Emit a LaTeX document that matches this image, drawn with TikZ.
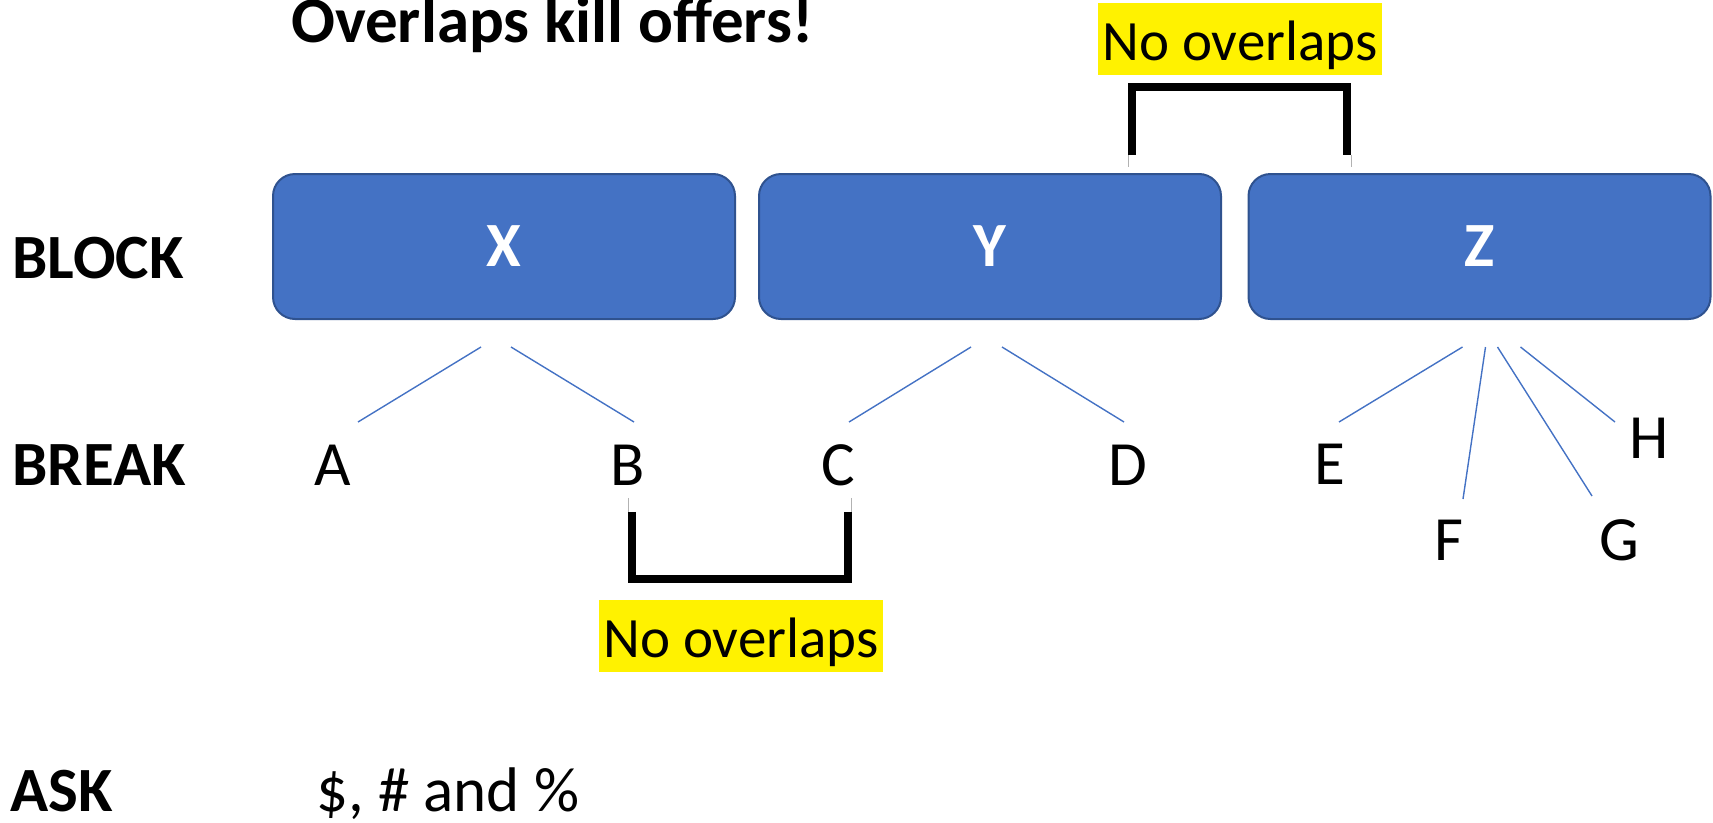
\documentclass[tikz,border=0pt]{standalone}
\usepackage{fontspec}
\setmainfont{Carlito}
\definecolor{boxblue}{HTML}{4472C4}
\definecolor{boxedge}{HTML}{2F528F}
\begin{document}
\begin{tikzpicture}[
        x=1pt, y=-1pt,
        every node/.style={inner sep=0pt, font=\fontsize{63}{75}\selectfont},
        block/.style={rectangle, rounded corners=22pt, draw=boxedge, line width=2pt, fill=boxblue,
                text=white, font=\fontsize{63}{75}\selectfont\bfseries,
                minimum width=462pt, minimum height=145pt},
        row/.style={anchor=base west, font=\fontsize{63}{75}\selectfont\bfseries},
        leaf/.style={anchor=base},
        link/.style={boxblue, line width=1.4pt},
        bracket/.style={line width=8pt},
        stub/.style={gray!60, line width=0.8pt},
        note/.style={anchor=base, fill=yellow, font=\fontsize{57}{68}\selectfont,
                minimum width=284pt, text height=57pt, text depth=15pt}
    ]
    \useasboundingbox (0,0) rectangle (1713,822);

    \node[row, font=\fontsize{65}{78}\selectfont\bfseries] (title) at (291,42) {Overlaps kill offers!};

    \node[row] (block) at (12,278) {BLOCK};
    \node[row] (break) at (12,485) {BREAK};
    \node[row] (ask) at (10,811) {ASK};
    \node[anchor=base west] (price) at (316,811) {\$, \# and \%};

    \node[block] (X) at (504,246.5) {X};
    \node[block] (Y) at (990,246.5) {Y};
    \node[block] (Z) at (1479.5,246.5) {Z};

    \node[leaf] (A) at (333,485) {A};
    \node[leaf] (B) at (628,485) {B};
    \node[leaf] (C) at (838,485) {C};
    \node[leaf] (D) at (1128,485) {D};
    \node[leaf] (E) at (1330,484) {E};
    \node[leaf] (F) at (1449,560) {F};
    \node[leaf] (G) at (1619,560) {G};
    \node[leaf] (H) at (1649,458) {H};

    \draw[link] ([shift={(-23,27)}]X.south) -- ([shift={(25,-63)}]A.base);
    \draw[link] ([shift={(7,27)}]X.south) -- ([shift={(6,-63)}]B.base);
    \draw[link] ([shift={(-19,27)}]Y.south) -- ([shift={(11,-63)}]C.base);
    \draw[link] ([shift={(12,27)}]Y.south) -- ([shift={(-4,-63)}]D.base);
    \draw[link] ([shift={(-17,27)}]Z.south) -- ([shift={(9,-62)}]E.base);
    \draw[link] ([shift={(6,27)}]Z.south) -- ([shift={(14,-61)}]F.base);
    \draw[link] ([shift={(18,27)}]Z.south) -- ([shift={(-27,-64)}]G.base);
    \draw[link] ([shift={(41,27)}]Z.south) -- ([shift={(-34,-36)}]H.base);

    \node[note] (nolapYZ) at (1240,60) {No overlaps};
    \node[note] (nolapBC) at (741,657) {No overlaps};

    \draw[bracket] ([shift={(-108,80)}]nolapYZ.south) |- ([shift={(107,12)}]nolapYZ.south) -- ++(0,68);
    \draw[stub] ([shift={(-112,80)}]nolapYZ.south) -- ++(0,12);
    \draw[stub] ([shift={(111,80)}]nolapYZ.south) -- ++(0,12);

    \draw[bracket] ([shift={(-109,-88)}]nolapBC.north) |- ([shift={(107,-21)}]nolapBC.north) -- ++(0,-67);
    \draw[stub] ([shift={(-113,-102)}]nolapBC.north) -- ++(0,14);
    \draw[stub] ([shift={(110,-102)}]nolapBC.north) -- ++(0,14);
\end{tikzpicture}
\end{document}
